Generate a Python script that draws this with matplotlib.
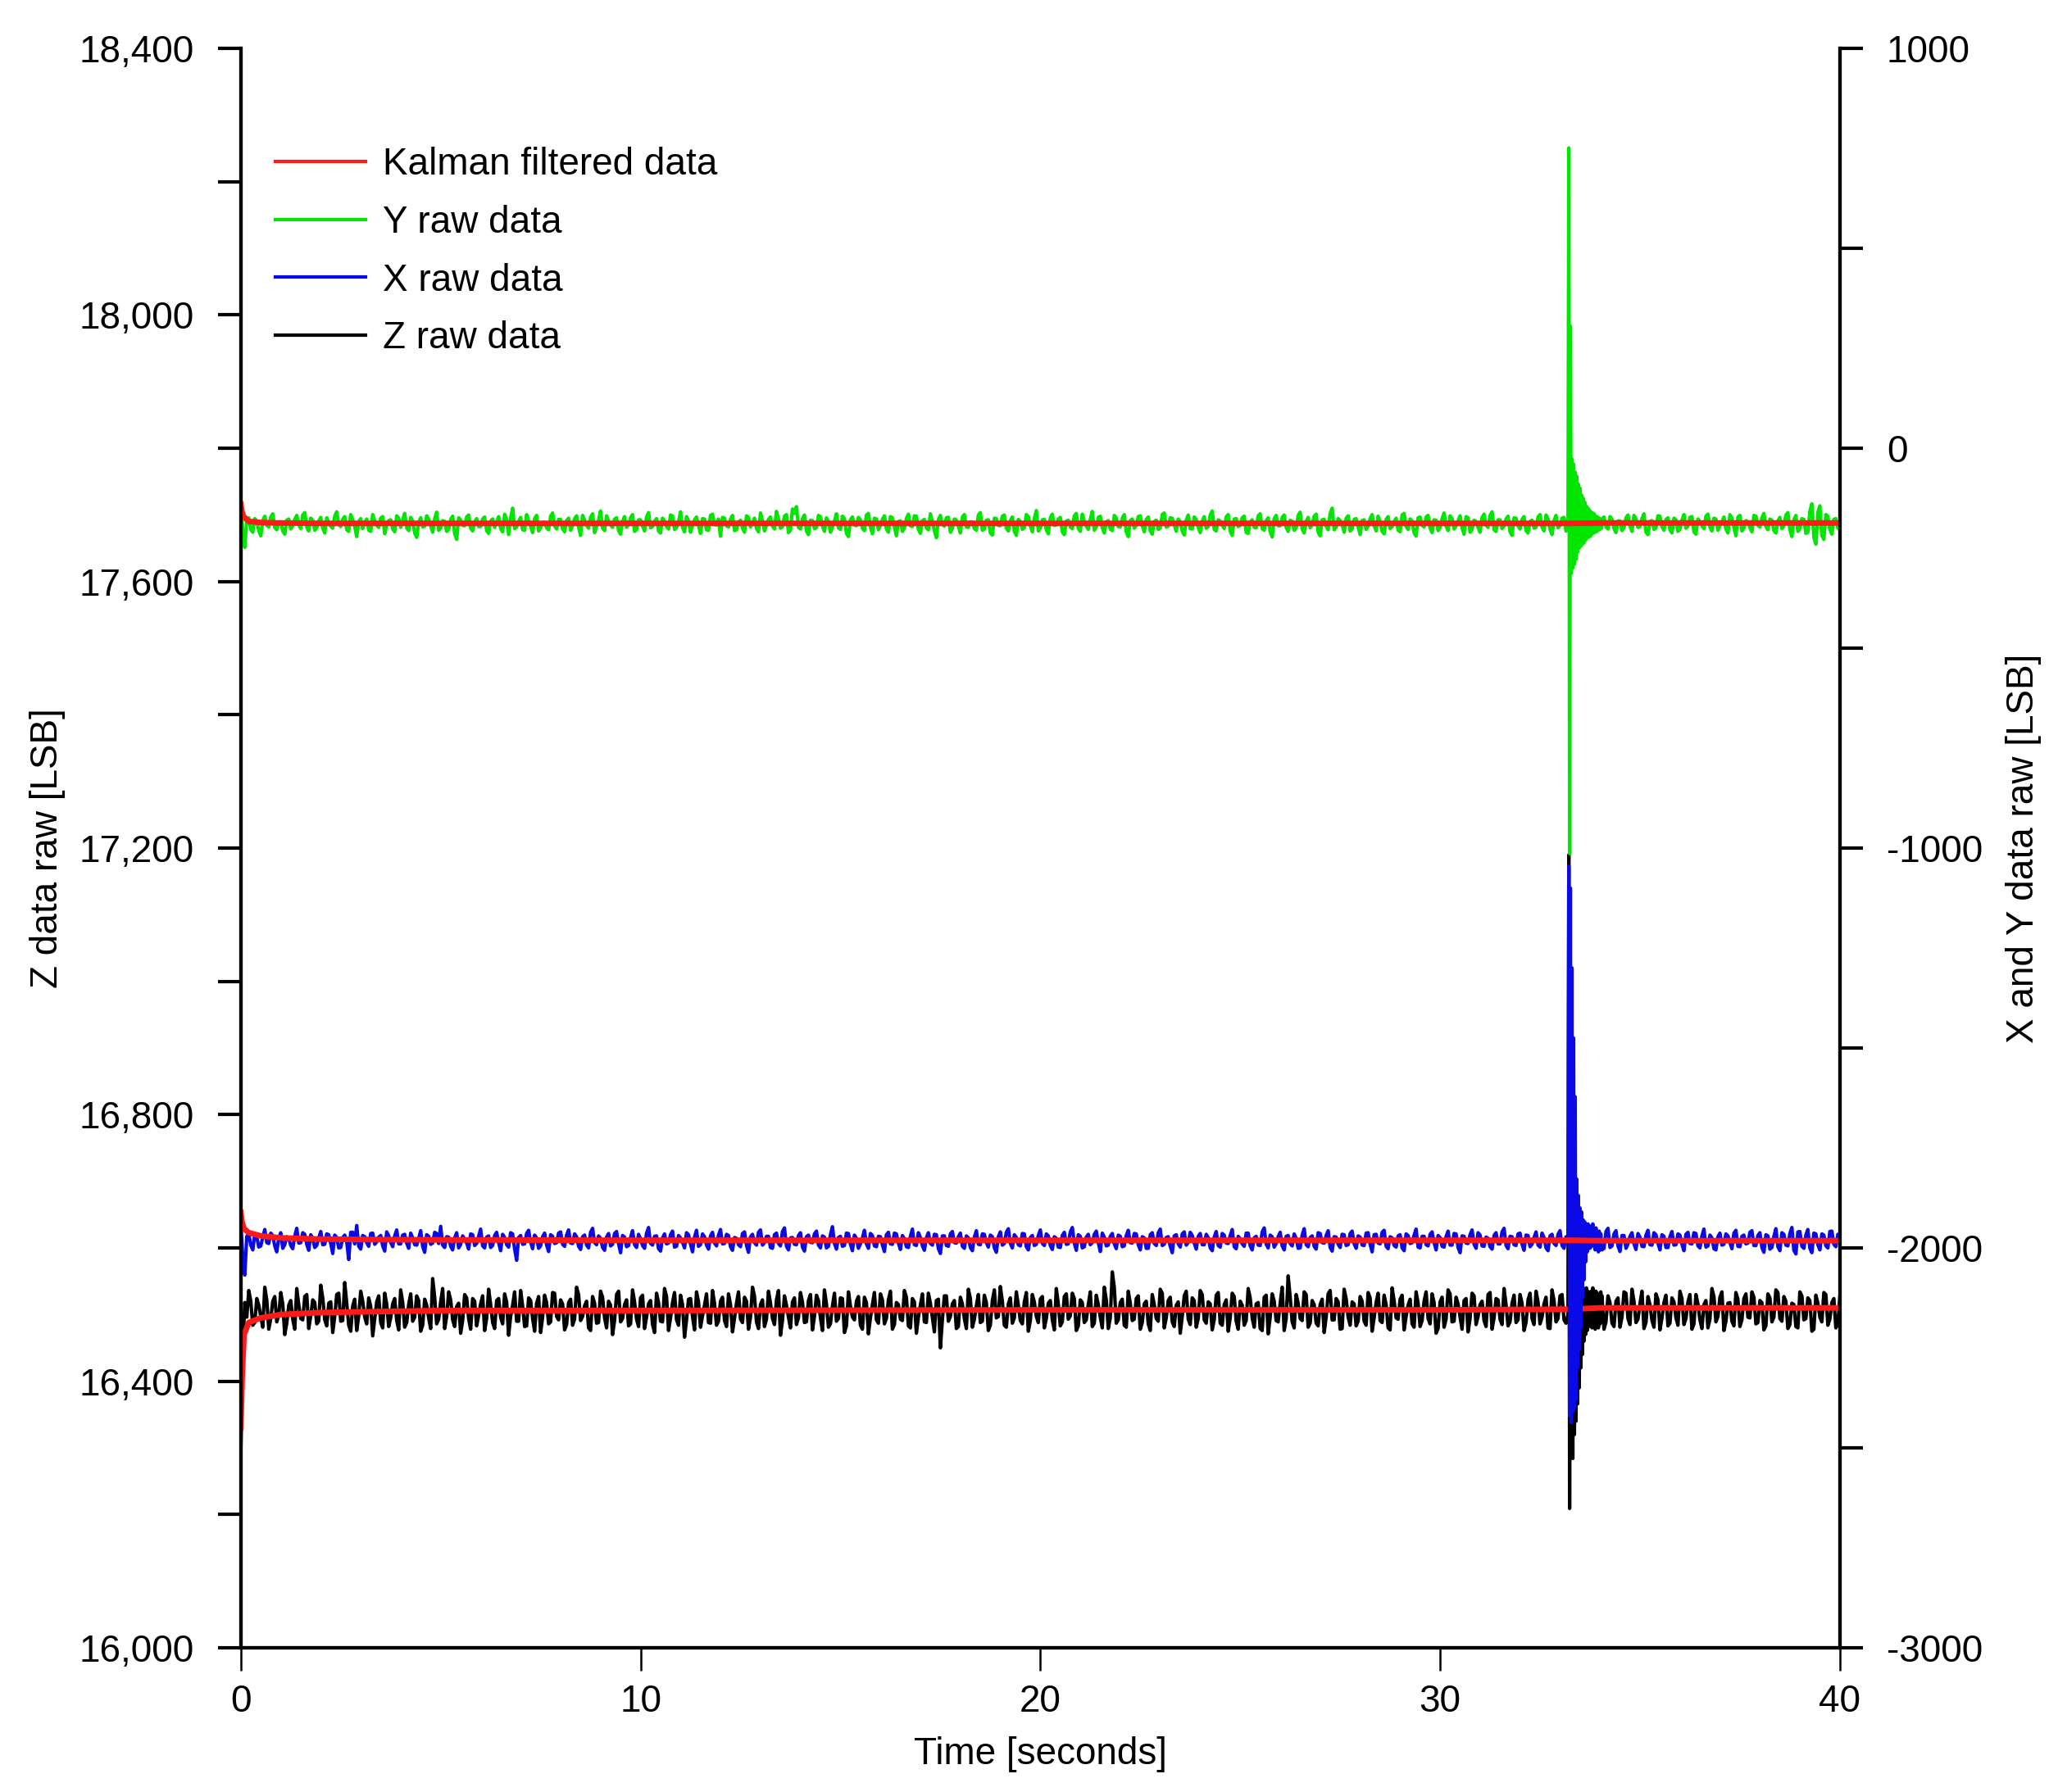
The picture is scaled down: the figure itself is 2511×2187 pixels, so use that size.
import matplotlib
matplotlib.use("Agg")
import matplotlib.pyplot as plt
import numpy as np
from matplotlib.lines import Line2D
from matplotlib.ticker import MultipleLocator, FuncFormatter

plt.rcParams["font.family"] = ["Liberation Sans", "DejaVu Sans"]

# baselines [LSB]
Y_BASE = -188
X_BASE = -1981
Z_BASE = 16506

# raw noise around the baseline, one value every 0.1 s (0 .. 40 s)
y_dev = [
    58, -60, 14, -22, 6, -31, 18, -9, 24, -16, 4, -27, 11, -6, 20, -13, 27, -19, 8, -11,
    15, -24, 3, -12, 29, -8, 17, -20, 9, -33, 12, 2, -17, 22, -5, 13, -26, 7, -14, 19,
    -10, 25, -18, 6, -35, 14, -7, 10, -22, 28, -12, 5, -15, 18, -40, 9, -6, 21, -19, 12,
    -8, 16, -25, 11, 4, -13, 23, -28, 38, -9, 15, -17, 7, -23, 20, -11, 3, -16, 26, -14,
    10, -21, 13, -5, 19, -30, 8, -12, 24, -7, 31, -18, 6, -10, 14, -27, 17, -3, 22, -15,
    9, -19, 27, -8, 12, -24, 5, -14, 18, -11, 29, -21, 7, -6, 16, -25, 11, -17, 23, -4,
    -32, 13, -9, 20, -16, 8, -22, 15, 2, -13, 26, -19, 10, -7, 30, -12, 18, -23, 36, 42,
    -14, 21, -28, 7, -11, 17, -20, 5, -9, 24, -15, 12, -33, 16, -6, 9, -18, 25, -26, 11,
    -5, 19, -22, 14, -31, 6, -12, 23, -8, 18, -25, 10, -16, 4, -36, 20, -7, 15, -13, 8,
    -24, 22, -10, 3, -17, 27, -14, 9, -29, 12, -6, 21, -19, 16, -30, 5, -11, 17, -21, 32,
    -12, 10, -26, 23, -4, 15, -28, 8, -13, 25, -20, 6, -15, 30, -9, 18, -24, 7, -18, 14,
    -9, 22, -33, 11, -5, 19, -21, 16, -27, 8, -12, 26, -7, 13, -20, 4, -29, 21, -14, 10,
    -23, 17, -8, 31, -19, 6, -13, 22, -30, 12, -5, 18, -25, 9, -11, 24, -17, 14, -34, 20,
    -6, 21, -20, 5, -12, 28, -24, 15, -4, 23, -31, 10, -16, 38, -10, 7, -22, 19, -14, 12,
    -28, 9, -7, 22, -19, 4, -26, 17, -8, 13, -21, 25, -15, 6, -32, 16, -9, 20, -23, 8,
    -11, 26, -18, 12, -6, 19, -27, 14, -15, 5, -22, 23, -10, 29, -20, 9, -7, 18, -30, 13,
    -14, 17, -24, 8, -10, 22, -19, 11, -28, 20, -6, 15, -21, 38, -42, 30, -30, 35, -35, 28,
    -25, 16, -14, 10, -23, 6, -11, 21, -20, 12, -8, 24, -28, 7, -12, 18, -17, 14, -24, 9,
    -15, 22, -7, 17, -27, 5, -13, 23, -19, 11, -6, 16, -24, 13, -31, 20, -12, 4, -21, 18,
    -9, 25, -16, 8, -24, 15, -7, 27, -33, 20, -14, 10, -22, 49, -52, 44, -40, 18, -27, 12,
    -15,
]
# in-between readings, 0.05 .. 39.95 s
y_mid = [
    -20, 9, -15, 12, -18, 7, -5, 16, -11, 3, -19, 8, -14, 10, -4, 21, -9, 13, -17, 6,
    -12, 14, -7, 18, -3, 10, -16, 22, -8, 5, -13, 11, -20, 6, -10, 17, -4, 9, -21, 13,
    8, -11, 15, -24, 3, -9, 19, -6, 12, -17, 7, -20, 10, -26, 14, -5, 16, -12, 4, -8,
    11, -18, 6, -10, 17, -21, 9, 14, -13, 5, -16, 22, -7, 12, -19, 3, -11, 18, -6, 10,
    -14, 7, -17, 12, -9, 20, -5, 15, -23, 8, -12, 19, -4, 11, -18, 6, -10, 14, -20, 9,
    -7, 16, -11, 5, -19, 13, -8, 21, -15, 4, -10, 17, -22, 9, -6, 12, -16, 20, -3, 11,
    15, -6, 10, -18, 4, -12, 19, -9, 13, -21, 7, -5, 16, -14, 11, -8, 22, -17, 25, -10,
    12, -19, 8, -13, 20, -7, 14, -22, 6, -11, 18, -25, 9, -4, 15, -12, 21, -9, 13, -16,
    10, -14, 17, -8, 5, -20, 12, -6, 19, -15, 7, -11, 24, -18, 9, -3, 14, -22, 11, -7,
    16, -9, 4, -13, 21, -17, 8, -24, 13, -5, 18, -12, 7, -20, 10, -15, 22, -6, 12, -19,
    9, -16, 14, -5, 11, -21, 6, -9, 19, -13, 23, -7, 10, -17, 15, -11, 4, -14, 20, -8,
    13, -21, 7, -12, 17, -6, 10, -18, 5, -15, 22, -9, 14, -4, 11, -19, 8, -13, 16, -10,
    6, -12, 21, -15, 9, -5, 16, -20, 11, -8, 14, -23, 4, -10, 19, -13, 7, -21, 12, -6,
    15, -10, 8, -17, 20, -14, 5, -11, 18, -22, 9, -7, 25, -16, 12, -4, 13, -19, 10, -9,
    7, -15, 12, -6, 18, -20, 10, -13, 4, -17, 21, -8, 11, -24, 14, -5, 16, -12, 9, -18,
    12, -7, 19, -14, 6, -11, 17, -22, 8, -10, 15, -5, 20, -16, 9, -13, 11, -21, 14, -6,
    10, -18, 5, -12, 16, -9, 21, -15, 7, -11, 13, -19, 25, -30, 20, -25, 25, -20, 22, -18,
    11, -9, 17, -13, 6, -18, 14, -7, 20, -10, 12, -22, 5, -15, 19, -8, 10, -16, 13, -20,
    8, -12, 15, -21, 11, -6, 18, -9, 13, -17, 4, -14, 22, -10, 16, -19, 7, -11, 20, -5,
    14, -8, 11, -18, 6, -13, 21, -16, 9, -20, 12, -25, 30, -35, 28, -30, 22, -15, 10, -12,
]

x_dev = [
    40, -87, 16, -24, 9, -14, 27, -8, 12, -29, 19, -11, 5, -21, 30, -6, 15, -25, 4, -13,
    22, -10, 14, -33, 7, -18, 13, -48, 20, 37, -22, 9, -15, 18, -4, 12, -27, 11, -16, 26,
    -9, 15, -20, 6, -12, 24, -30, 10, -7, 17, 35, -18, 8, -24, 19, -10, 3, -22, 14, -8,
    28, -19, 11, -13, 20, -26, 7, -17, 16, -50, 12, -9, 25, -21, 6, -14, 18, -28, 10, -6,
    21, -15, 26, -8, 9, -23, 13, -19, 30, -11, 5, -25, 17, -10, 22, -31, 8, -13, 24, -18,
    4, -20, 32, -12, 11, -27, 16, -7, 23, -15, 6, -19, 14, -29, 25, -11, 9, -22, 20, -14,
    27, -8, 12, -25, 5, -16, 21, -30, 15, -12, 26, -6, 10, -20, 18, -14, 31, -24, 7, -11,
    19, -27, 13, -6, 23, -19, 8, -15, 34, -22, 10, -13, 17, -26, 5, -9, 25, -20, 12, -16,
    9, -28, 20, -10, 16, -23, 4, -18, 28, -13, 7, -25, 19, -12, 14, -33, 11, -15, 22, -7,
    18, -20, 6, -26, 24, -11, 15, -17, 9, -30, 21, -8, 29, -19, 7, -14, 16, -24, 12, -10,
    26, -13, 11, -23, 5, -18, 20, -9, 32, -25, 10, -16, 15, -6, 23, -28, 8, -12, 17, -21,
    10, -14, 25, -7, 16, -24, 6, -20, 19, -13, 28, -10, 9, -31, 14, -17, 21, -5, 12, -22,
    17, -11, 7, -26, 22, -17, 13, -8, 27, -21, 4, -15, 18, -24, 10, -13, 31, -19, 9, -8,
    20, -24, 12, -14, 5, -19, 29, -16, 11, -22, 17, -7, 24, -27, 8, -18, 14, -11, 23, -20,
    8, -13, 19, -29, 15, -9, 25, -21, 6, -17, 14, -26, 12, -6, 28, -19, 10, -14, 21, -24,
    7, -17, 23, -12, 16, -31, 10, -8, 26, -20, 13, -15, 5, -22, 19, -9, 30, -21, 9, -13,
    18, -25, 12, -10, 21, -17, 7, -26, 15, -13, 24, -20, 10, -19, 35, -38, 40, -45, 38, -40,
    36, -20, 30, -14, 24, -28, 12, -9, 19, -23, 8, -16, 25, -12, 14, -24, 10, -18, 22, -11,
    13, -26, 20, -9, 17, -19, 28, -14, 6, -24, 18, -10, 11, -21, 25, -16, 13, -7, 24, -13,
    19, -30, 11, -18, 29, -26, 15, -14, 32, -34, 22, -20, 27, -31, 16, -24, 13, -19, 23, -16,
    10,
]
x_mid = [
    -40, 10, -12, 15, -17, 8, -6, 18, -14, 5, -20, 9, -13, 11, -7, 19, -10, 14, -18, 6,
    -11, 16, -8, 13, -19, 7, -4, 20, -9, -15, 12, -6, 17, -10, 8, -14, 21, -5, 11, -9,
    13, -7, 18, -11, 4, -16, 14, -10, 20, -8, -12, 9, -15, 6, -19, 11, -7, 16, -13, 10,
    -14, 8, -18, 12, -6, 15, -11, 19, -22, 7, -10, 17, -5, 13, -20, 9, -12, 14, -8, 18,
    -10, 13, -7, 16, -15, 9, -12, 20, -6, 11, -18, 8, -14, 17, -9, 12, -16, 7, -11, 15,
    -13, 18, -8, 10, -21, 6, -9, 14, -17, 12, -5, 19, -10, 8, -15, 16, -12, 11, -7, 13,
    -9, 15, -16, 7, -11, 17, -13, 9, -6, 20, -12, 10, -18, 14, -8, 22, -15, 6, -10, 12,
    -17, 9, -5, 16, -12, 11, -19, 14, -8, 7, -15, 18, -10, 13, -20, 6, -9, 17, -14, 10,
    -12, 14, -9, 18, -7, 12, -16, 10, -11, 19, -14, 6, -8, 15, -21, 11, -13, 16, -6, 9,
    -15, 11, -18, 8, -10, 16, -6, 13, -19, 9, -12, 20, -8, 14, -11, 17, -16, 7, -13, 12,
    -8, 16, -13, 9, -17, 12, -10, 21, -7, 14, -19, 8, -11, 15, -6, 18, -14, 10, -9, 13,
    -16, 12, -6, 17, -11, 9, -20, 14, -8, 19, -13, 7, -15, 11, -9, 16, -12, 20, -7, 10,
    -11, 15, -19, 8, -13, 17, -7, 12, -16, 10, -9, 18, -14, 6, -12, 21, -10, 13, -17, 9,
    -14, 10, -8, 16, -20, 13, -11, 7, -15, 19, -6, 12, -18, 9, -10, 15, -13, 17, -9, 11,
    -12, 18, -10, 14, -7, 20, -15, 9, -13, 11, -19, 16, -8, 13, -17, 10, -11, 15, -6, 12,
    -15, 9, -12, 17, -18, 11, -7, 14, -10, 19, -14, 8, -16, 12, -9, 21, -13, 10, -11, 16,
    -10, 13, -16, 7, -12, 18, -19, 11, -8, 15, -13, 9, -20, 25, -30, 28, -32, 30, -28, 25,
    -24, 22, -18, 16, -14, 12, -20, 10, -9, 17, -15, 13, -11, 19, -7, 14, -18, 9, -12, 16,
    -10, 15, -8, 19, -14, 11, -17, 13, -21, 9, -12, 16, -6, 18, -15, 10, -9, 20, -13, 12,
    -18, 14, -22, 10, -16, 19, -12, 17, -25, 21, -15, 13, -20, 18, -11, 16, -14, 22, -10, 15,
]

z_dev = [
    -215, 12, 30, -22, 18, -9, 35, -28, 14, -17, 27, -36, 8, -13, 33, -12, 21, -27, 16, -20,
    38, -14, 11, -33, 24, -16, 42, -22, 7, -30, 29, -10, 19, -38, 13, -18, 26, -24, 10, -15,
    31, -25, 9, -16, 22, -31, 17, -11, 48, -20, 13, -27, 28, -14, 6, -34, 24, -12, 18, -23,
    10, -30, 32, -18, 15, -10, 25, -37, 8, -16, 30, -24, 19, -12, 11, -33, 23, -20, 27, -9,
    16, -29, 12, -22, 35, -15, 7, -26, 21, -19, 29, -11, 14, -36, 24, -17, 9, -23, 31, -13,
    19, -27, 10, -21, 26, -16, 33, -30, 12, -14, 23, -40, 17, -9, 28, -25, 8, -18, 30, -22,
    14, -15, 25, -32, 11, -13, 20, -28, 35, -17, 9, -24, 29, -12, 16, -37, 22, -10, 13, -21,
    27, -18, 15, -29, 23, -11, 31, -25, 7, -16, 19, -33, 28, -10, 14, -22, 20, -35, 9, -14,
    25, -20, 16, -28, 12, -13, 30, -23, 18, -34, 8, -17, 26, -11, 15, -56, 22, -16, 10, -27,
    20, -12, 32, -25, 7, -18, 23, -30, 15, -11, 36, -22, 10, -19, 28, -15, 13, -31, 24, -9,
    17, -26, 11, -14, 33, -23, 21, -13, 26, -30, 16, -18, 9, -24, 23, -10, 35, -27, 58, -19,
    12, -22, 29, -15, 18, -28, 10, -20, 24, -12, 32, -26, 15, -17, 8, -34, 22, -13, 19, -25,
    30, -14, 13, -29, 23, -19, 9, -31, 26, -16, 14, -22, 33, -11, 10, -27, 20, -35, 25, -15,
    11, -30, 52, -17, 24, -12, 28, -25, 15, -19, 9, -33, 25, -14, 18, -28, 32, -10, 13, -23,
    21, -16, 27, -31, 12, -15, 23, -26, 34, -11, 17, -29, 8, -20, 28, -24, 14, -12, 25, -34,
    13, -25, 31, -17, 20, -10, 15, -32, 26, -21, 9, -15, 24, -28, 18, -13, 33, -23, 11, -18,
    24, -30, 16, -12, 29, -20, 10, -26, 31, -17, 22, -14, 27, -24, 30, -45, 40, -60, 45, -40,
    30, -28, 22, -19, 14, -25, 28, -12, 32, -18, 10, -27, 21, -15, 25, -29, 12, -23, 19, -11,
    29, -21, 13, -28, 24, -14, 9, -26, 33, -17, 20, -30, 11, -16, 27, -24, 18, -10, 28, -20,
    15, -29, 25, -17, 31, -12, 21, -27, 11, -24, 28, -14, 19, -31, 23, -10, 27, -22, 12, -26,
    20,
]
z_mid = [
    -60, -10, 14, -18, 8, -25, 16, -12, 21, -7, 10, -19, 15, -28, 9, -14, 24, -8, 12, -16,
    19, -23, 13, -9, 26, -15, 11, -31, 17, -8, 14, -20, 6, -13, 22, -26, 10, -11, 18, -29,
    12, -18, 25, -10, 15, -22, 8, -27, 20, -13, 33, -9, 16, -24, 11, -15, 19, -28, 14, -7,
    22, -12, 9, -27, 18, -20, 13, -9, 28, -16, 7, -23, 15, -31, 21, -10, 12, -17, 26, -14,
    10, -21, 17, -13, 24, -9, 14, -30, 11, -18, 20, -26, 8, -15, 29, -12, 16, -20, 13, -24,
    23, -10, 15, -33, 12, -17, 21, -11, 27, -22, 9, -14, 18, -29, 13, -8, 25, -19, 11, -16,
    20, -24, 9, -12, 28, -18, 14, -10, 22, -27, 16, -13, 11, -21, 30, -15, 8, -26, 19, -11,
    13, -17, 24, -9, 15, -30, 10, -20, 26, -12, 18, -23, 7, -14, 21, -28, 12, -11, 27, -19,
    16, -12, 29, -21, 9, -15, 20, -26, 13, -10, 25, -18, 11, -32, 17, -14, 22, -9, 15, -24,
    10, -27, 18, -13, 24, -16, 12, -22, 31, -9, 14, -25, 19, -11, 8, -20, 27, -15, 13, -18,
    21, -12, 15, -29, 10, -17, 25, -8, 18, -23, 12, -14, 28, -19, 9, -26, 16, -11, 35, -14,
    17, -25, 11, -13, 22, -18, 14, -30, 9, -16, 26, -11, 20, -24, 13, -9, 29, -21, 15, -12,
    24, -19, 10, -14, 27, -22, 16, -11, 21, -28, 8, -15, 19, -25, 12, -30, 23, -10, 14, -17,
    35, -12, 20, -26, 11, -15, 24, -19, 9, -23, 17, -10, 30, -14, 13, -27, 18, -22, 10, -16,
    14, -22, 19, -11, 26, -18, 9, -29, 15, -13, 23, -9, 17, -25, 11, -15, 28, -20, 12, -27,
    20, -13, 25, -16, 10, -28, 18, -12, 22, -9, 14, -24, 27, -11, 16, -21, 9, -17, 23, -14,
    11, -18, 26, -21, 13, -10, 20, -27, 15, -12, 24, -19, 9, -16, 25, -35, 30, -40, 28, -30,
    22, -17, 12, -24, 19, -10, 26, -21, 14, -13, 29, -18, 9, -25, 16, -11, 23, -19, 13, -22,
    18, -12, 24, -20, 10, -27, 15, -13, 21, -9, 28, -16, 12, -23, 17, -14, 25, -11, 20, -18,
    12, -23, 19, -10, 27, -16, 14, -21, 9, -26, 22, -12, 15, -28, 11, -17, 24, -13, 18, -20,
]

# the knock, one value every 0.02 s from 33.20 to 34.04 s
SPIKE_T0, SPIKE_T1 = 33.20, 34.04
spike_y = [-175, 751, -1014, 305, -313, -27, -300, -40, -290, -60, -278, -70, -260, -90,
           -250, -100, -245, -117, -240, -125, -236, -135, -230, -145, -225, -150, -222,
           -155, -220, -160, -215, -162, -212, -165, -210, -170, -208, -172, -205, -175,
           -203, -178, -200]
spike_x = [-1975, -1045, -2420, -1100, -2437, -1300, -2410, -1475, -2400, -1622, -2380,
           -1828, -2300, -1869, -2254, -1900, -2200, -1910, -2125, -1930, -2080, -1935,
           -2035, -1945, -2010, -1940, -2002, -1950, -2000, -1945, -1995, -1940, -1995,
           -1955, -2005, -1950, -2000, -1960, -2010, -1958, -2005, -1965, -1995]
spike_z = [16500, 17190, 16209, 16917, 16300, 16700, 16284, 16600, 16320, 16560, 16340,
           16550, 16366, 16545, 16390, 16540, 16420, 16545, 16440, 16540, 16460, 16535,
           16470, 16540, 16476, 16535, 16482, 16530, 16490, 16535, 16480, 16540, 16485,
           16530, 16478, 16535, 16484, 16532, 16480, 16528, 16486, 16534, 16490]

# Kalman filter output
kal_t = [0, 0.03, 0.08, 0.2, 0.5, 1.0, 2.0, 3.0, 5.0, 10, 20, 30, 33.3, 34, 40]
kal_y = [-140, -160, -172, -183, -186, -187, -188, -188, -188, -188, -188, -188, -188, -187, -187]
kal_x = [-1911, -1935, -1952, -1962, -1970, -1975, -1978, -1979, -1980, -1981, -1981, -1981,
         -1981, -1982, -1982]
kal_z = [16330, 16400, 16470, 16488, 16495, 16500, 16503, 16504, 16506, 16506, 16507, 16507,
         16508, 16510, 16510]


def build(dev, mid, base, spike):
    t = np.concatenate([np.linspace(0, 40, len(dev)), np.linspace(0.05, 39.95, len(mid))])
    v = base + np.array(dev + mid, dtype=float)
    keep = (t < SPIKE_T0 - 0.01) | (t > SPIKE_T1 + 0.01)
    ts = np.linspace(SPIKE_T0, SPIKE_T1, len(spike))
    tt = np.concatenate([t[keep], ts])
    vv = np.concatenate([v[keep], np.array(spike, dtype=float)])
    order = np.argsort(tt, kind="stable")
    return tt[order], vv[order]


ty, y_raw = build(y_dev, y_mid, Y_BASE, spike_y)
tx, x_raw = build(x_dev, x_mid, X_BASE, spike_x)
tz, z_raw = build(z_dev, z_mid, Z_BASE, spike_z)

RED = "#ff1a1a"
GREEN = "#00e600"
BLUE = "#0a0ae6"
FS = 33
RAW_LW = 3.0
KAL_LW = 5.0

fig = plt.figure(figsize=(25.11, 21.87), dpi=100)
ax = fig.add_axes([0.117, 0.0805, 0.777, 0.8925])
ax2 = ax.twinx()

ax.plot(tz, z_raw, color="black", lw=RAW_LW)
ax.plot(kal_t, kal_z, color=RED, lw=KAL_LW)

ax2.plot(tx, x_raw, color=BLUE, lw=RAW_LW)
ax2.plot(ty, y_raw, color=GREEN, lw=RAW_LW)
ax2.plot(kal_t, kal_x, color=RED, lw=KAL_LW)
ax2.plot(kal_t, kal_y, color=RED, lw=KAL_LW)

ax.set_xlim(0, 40)
ax.set_ylim(16000, 18400)
ax2.set_ylim(-3000, 1000)

ax.xaxis.set_major_locator(MultipleLocator(10))
ax.yaxis.set_major_locator(MultipleLocator(400))
ax.yaxis.set_minor_locator(MultipleLocator(200))
ax.yaxis.set_major_formatter(FuncFormatter(lambda v, p: f"{int(v):,}"))
ax2.yaxis.set_major_locator(MultipleLocator(1000))
ax2.yaxis.set_minor_locator(MultipleLocator(500))
ax2.yaxis.set_major_formatter(FuncFormatter(lambda v, p: f"{int(v)}"))

for a in (ax, ax2):
    a.spines["top"].set_visible(False)
    for s in ("left", "right", "bottom"):
        a.spines[s].set_linewidth(3.0)
ax.tick_params(axis="y", which="both", direction="out", length=20, width=3.0,
               labelsize=FS, pad=21)
ax.tick_params(axis="x", which="both", direction="out", length=20, width=1.8,
               labelsize=FS, pad=12)
ax2.tick_params(axis="y", which="both", direction="out", length=20, width=3.0,
                labelsize=FS, pad=21)

ax.set_xlabel("Time [seconds]", fontsize=FS, labelpad=14)
ax.set_ylabel("Z data raw [LSB]", fontsize=FS, labelpad=12)
ax2.set_ylabel("X and Y data raw [LSB]", fontsize=FS, labelpad=20)

handles = [
    Line2D([], [], color=RED, lw=3),
    Line2D([], [], color=GREEN, lw=3),
    Line2D([], [], color=BLUE, lw=3),
    Line2D([], [], color="black", lw=3),
]
labels = ["Kalman filtered data", "Y raw data", "X raw data", "Z raw data"]
ax2.legend(handles, labels, loc="upper left", bbox_to_anchor=(0.134, 0.918),
           bbox_transform=fig.transFigure, frameon=False, fontsize=FS,
           handlelength=2.4, handletextpad=0.45, labelspacing=0.58,
           borderpad=0, borderaxespad=0)

fig.savefig("out.png", dpi=100)
